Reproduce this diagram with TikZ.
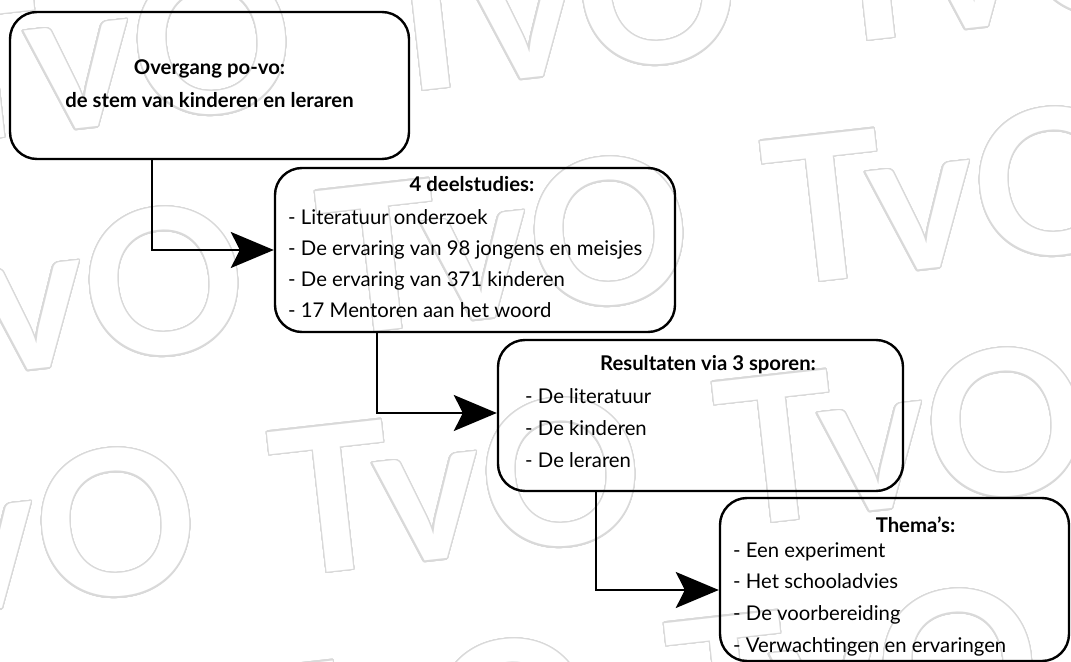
\documentclass[tikz,border=0pt]{standalone}
\usepackage{fontspec}
\setmainfont{Lato}
\usepackage[copies]{contour}
\usetikzlibrary{arrows.meta,positioning,calc}
\contourlength{1.3bp}
\contournumber{48}
\definecolor{wmgray}{gray}{0.85}

\begin{document}
\begin{tikzpicture}[x=1bp,y=-1bp,
box/.style={
draw,
line width=2.4bp,
rounded corners=27bp,
inner sep=0pt},
title/.style={font=\fontsize{20.3bp}{24bp}\bfseries\selectfont,inner sep=0pt,anchor=base},
list/.style={font=\fontsize{20.3bp}{24bp}\selectfont,inner sep=0pt,anchor=base west},
flow/.style={line width=2bp,-{Stealth[length=43bp,width=36bp,inset=9bp]}},
tvo/.style={font=\fontsize{201bp}{201bp}\bfseries\selectfont,text=white,rotate=6.4,inner sep=0pt}]
\useasboundingbox (0,0) rectangle (1071,662);

% background TvO pattern, listed by the centre of the O
\foreach \ox/\oy [count=\i] in {208/42,653/-8,1098/-58,160/283,605/233,1050/183,112/524,557/474,1002/424,64/765,509/715,954/665}
  \node[tvo] (wm\i) at ({\ox-100},{\oy+11}) {\contour{wmgray}{TvO}};

\node[box,minimum width=399bp,minimum height=147bp] (intro) at (209.5,85.5) {};
\node[box,minimum width=400bp,minimum height=164bp] (studies) at (475,250) {};
\node[box,minimum width=405bp,minimum height=151bp] (results) at (700.5,415.5) {};
\node[box,minimum width=349bp,minimum height=163bp] (themes) at (894.5,579.5) {};

\node[title] (intro1) at (209.5,75) {Overgang po-vo:};
\node[title] (intro2) at (209.5,108) {de stem van kinderen en leraren};
\node[title] (studiesT) at (472,192) {4 deelstudies:};
\node[title] (resultsT) at (708,370) {Resultaten via 3 sporen:};
\node[title] (themesT) at (915.5,532) {Thema’s:};

\foreach \t [count=\j] in {Literatuur onderzoek,De ervaring van 98 jongens en meisjes,De ervaring van 371 kinderen,17 Mentoren aan het woord}
  \node[list] (studies\j) at (288,{224+31*(\j-1)}) {- \t};
\foreach \t [count=\j] in {De literatuur,De kinderen,De leraren}
  \node[list] (results\j) at (525,{403+32*(\j-1)}) {- \t};
\foreach \t [count=\j] in {Een experiment,Het schooladvies,De voorbereiding,Verwachtingen en ervaringen}
  \node[list] (themes\j) at (733,{557+31.7*(\j-1)}) {- \t};

\draw[flow] ([xshift=-57.5bp]intro.south) |- (studies.west);
\draw[flow] ([xshift=-98bp]studies.south) |- ([yshift=2.5bp]results.west);
\draw[flow] ([xshift=-104.5bp]results.south) |- ([yshift=-10.5bp]themes.west);
\end{tikzpicture}
\end{document}
